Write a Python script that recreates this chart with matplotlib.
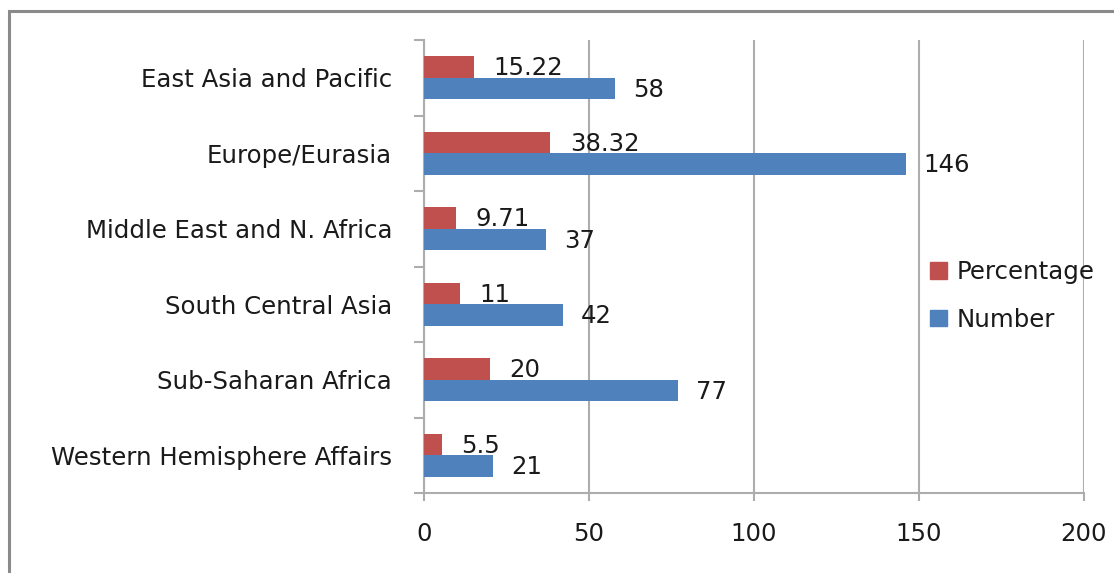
import matplotlib
matplotlib.use("Agg")
import matplotlib.pyplot as plt
from matplotlib.patches import Rectangle, Patch

regions = [
    "East Asia and Pacific",
    "Europe/Eurasia",
    "Middle East and N. Africa",
    "South Central Asia",
    "Sub-Saharan Africa",
    "Western Hemisphere Affairs",
]
percentage = [15.22, 38.32, 9.71, 11, 20, 5.5]
number = [58, 146, 37, 42, 77, 21]
pct_labels = ["15.22", "38.32", "9.71", "11", "20", "5.5"]
num_labels = ["58", "146", "37", "42", "77", "21"]
x_ticks = [0, 50, 100, 150, 200]

RED = "#C0504D"
BLUE = "#4F81BD"
GRID = "#ADADAD"
TXT = "#1a1a1a"

plt.rcParams["font.family"] = ["DejaVu Sans"]
FS = 17.6

W, H = 1114, 573
fig = plt.figure(figsize=(W / 100, H / 100), dpi=100)
fig.patch.set_facecolor("white")

# outer chart border (runs off the right/bottom edge)
fig.patches.append(Rectangle((9 / W, -0.1), 1.2, 1 - 11 / H + 0.1,
                             transform=fig.transFigure, fill=False,
                             edgecolor="#8a8a8a", linewidth=2.2))

ax = fig.add_axes([424 / W, 1 - 493 / H, 660 / W, 453 / H])

ypos = list(range(len(regions)))
h = 0.285
ax.barh([y - h / 2 for y in ypos], percentage, height=h, color=RED, zorder=3)
ax.barh([y + h / 2 for y in ypos], number, height=h, color=BLUE, zorder=3)

for y, v, lab in zip(ypos, percentage, pct_labels):
    ax.annotate(lab, (v, y - h / 2), xytext=(14, -1), textcoords="offset points",
                ha="left", va="center", fontsize=FS, color=TXT)
for y, v, lab in zip(ypos, number, num_labels):
    ax.annotate(lab, (v, y + h / 2), xytext=(13, -1), textcoords="offset points",
                ha="left", va="center", fontsize=FS, color=TXT)

ax.set_xlim(0, 200)
ax.set_ylim(len(regions) - 0.5, -0.5)
ax.set_xticks(x_ticks)
ax.set_xticklabels([str(t) for t in x_ticks], fontsize=FS, color=TXT)
ax.set_yticks(ypos)
ax.set_yticklabels(regions, fontsize=FS, color=TXT)
ax.set_yticks([y - 0.5 for y in ypos] + [len(regions) - 0.5], minor=True)

ax.tick_params(axis="y", which="major", length=0, pad=23)
ax.tick_params(axis="y", which="minor", length=7, width=1.5, color=GRID)
ax.tick_params(axis="x", which="major", length=6, width=1.5, color=GRID, pad=15)

ax.grid(axis="x", color=GRID, linewidth=1.5, zorder=0)
for s in ["top", "right"]:
    ax.spines[s].set_visible(False)
for s in ["left", "bottom"]:
    ax.spines[s].set_color(GRID)
    ax.spines[s].set_linewidth(1.5)

handles = [Patch(color=RED, label="Percentage"), Patch(color=BLUE, label="Number")]
fig.legend(handles=handles, loc="center left", bbox_to_anchor=(918 / W, 1 - 296 / H),
           frameon=False, fontsize=FS, handlelength=0.68, handleheight=0.68,
           handletextpad=0.38, labelspacing=0.95, borderpad=0, labelcolor=TXT)

fig.savefig("out.png", dpi=100)
